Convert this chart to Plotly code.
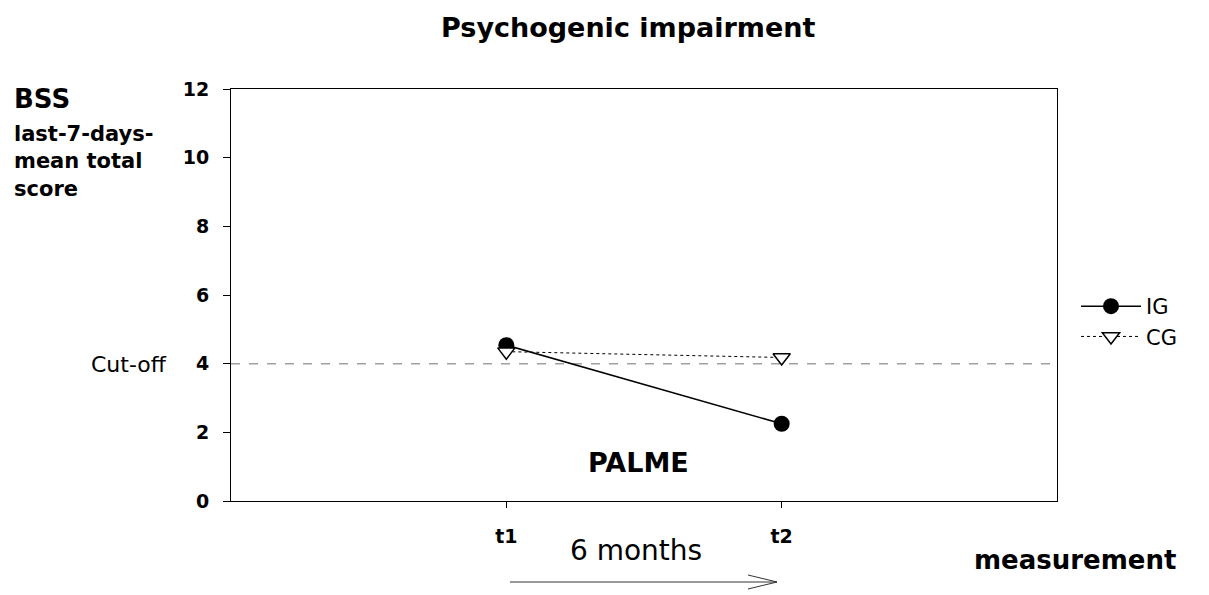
import plotly.graph_objects as go

# ---- data ----
time_points = [1, 2]
time_labels = ["t1", "t2"]
ig_values = [4.54, 2.25]
cg_values = [4.35, 4.18]
cutoff = 4
y_ticks = [0, 2, 4, 6, 8, 10, 12]

W, H = 1209, 595
L, R, T, B = 231, 152, 89, 94
pw, ph = W - L - R, H - T - B

def px2py(y):  # pixel y -> paper y
    return (H - B - y) / ph

def px2px(x):
    return (x - L) / pw

FONT = "DejaVu Sans, Verdana, sans-serif"

fig = go.Figure()
fig.add_trace(go.Scatter(
    x=time_points, y=ig_values, name="IG", mode="lines+markers",
    line=dict(color="black", width=1.5),
    marker=dict(symbol="circle", size=16, color="black"),
))
fig.add_trace(go.Scatter(
    x=time_points, y=cg_values, name="CG", mode="lines+markers",
    line=dict(color="black", width=1, dash="dot"),
    marker=dict(symbol="triangle-down", size=15, color="white",
                line=dict(color="black", width=1.5)),
))

# cut-off line
fig.add_shape(type="line", xref="paper", yref="y", x0=0, x1=1, y0=cutoff, y1=cutoff,
              line=dict(color="#a0a0a0", width=1.5, dash="dash"), layer="below")

# arrow (6 months)
ay = px2py(582)
fig.add_shape(type="line", xref="paper", yref="paper",
              x0=px2px(510), x1=px2px(777), y0=ay, y1=ay,
              line=dict(color="#333333", width=1))
fig.add_shape(type="path", xref="paper", yref="paper",
              path=f"M {px2px(748)},{px2py(575)} L {px2px(777)},{ay} L {px2px(748)},{px2py(589)}",
              line=dict(color="#333333", width=1))

ann = []
def A(text, x, y, size, bold=False, xanchor="center", yanchor="middle", align="center"):
    t = f"<b>{text}</b>" if bold else text
    ann.append(dict(text=t, xref="paper", yref="paper", x=px2px(x), y=px2py(y),
                    showarrow=False, xanchor=xanchor, yanchor=yanchor, align=align,
                    font=dict(size=size, family=FONT, color="black")))

A("Psychogenic impairment", 628, 28, 27, bold=True)
A("BSS", 12, 99, 26, bold=True, xanchor="left")
A("last-7-days-<br>mean total<br>score", 12, 161, 21, bold=True, xanchor="left", align="left")
A("Cut-off", 169, 364, 22, xanchor="right")
A("6 months", 636, 550, 28)
A("measurement", 1075, 560, 26, bold=True)
A("PALME", 638, 462, 27, bold=True)

fig.update_layout(
    width=W, height=H,
    margin=dict(l=L, r=R, t=T, b=B),
    plot_bgcolor="white", paper_bgcolor="white",
    font=dict(family=FONT, color="black"),
    showlegend=True,
    legend=dict(x=px2px(1076), y=px2py(286), xanchor="left", yanchor="top",
                font=dict(size=21, family=FONT), bgcolor="rgba(0,0,0,0)",
                tracegroupgap=0, itemwidth=60),
    annotations=ann,
    xaxis=dict(range=[0, 3], tickvals=time_points, ticktext=[f"<b>{t}</b>" for t in time_labels],
               showgrid=False, zeroline=False, showline=True, mirror=True,
               linecolor="black", linewidth=1, ticks="outside", ticklen=6,
               tickcolor="black", tickfont=dict(size=19, family=FONT),
               ticklabelstandoff=12),
    yaxis=dict(range=[0, 12], tickvals=y_ticks, ticktext=[f"<b>{v}</b>" for v in y_ticks],
               showgrid=False, zeroline=False, showline=True, mirror=True,
               linecolor="black", linewidth=1, ticks="outside", ticklen=7,
               tickcolor="black", tickfont=dict(size=19, family=FONT),
               ticklabelstandoff=10),
)

fig.write_html("out.html", config={"displayModeBar": False},
               post_script="document.body.style.margin='0';")
